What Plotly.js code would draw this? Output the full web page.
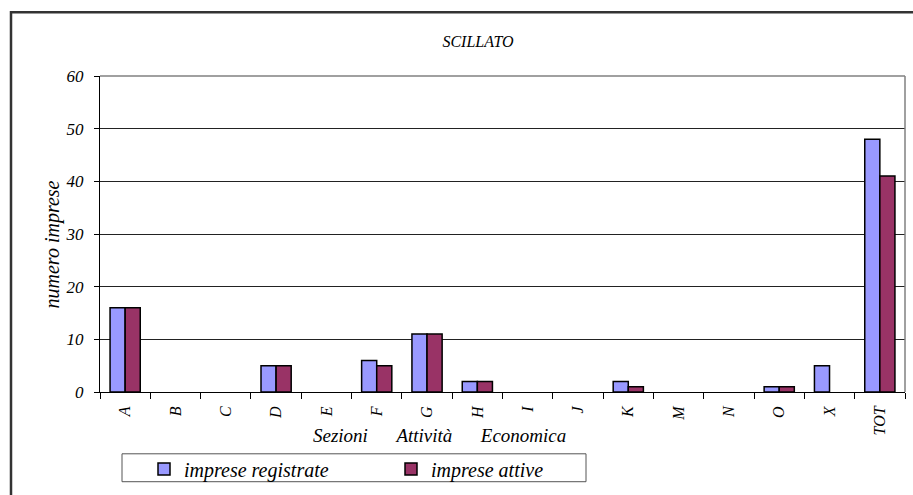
<!DOCTYPE html>
<html>
<head>
<meta charset="utf-8">
<script src="https://cdn.plot.ly/plotly-3.0.1.min.js"></script>
<style>html,body{margin:0;padding:0;background:#fff;}#chart{width:913px;height:495px;}</style>
</head>
<body>
<div id="chart"></div>
<script>
var categories = ["A","B","C","D","E","F","G","H","I","J","K","M","N","O","X","TOT"];
var impreseRegistrate = [16,0,0,5,0,6,11,2,0,0,2,0,0,1,5,48];
var impreseAttive = [16,0,0,5,0,5,11,2,0,0,1,0,0,1,0,41];
var yTicks = [0,10,20,30,40,50,60];

var W = 913, H = 495;
var m = {l:100, r:8, t:76, b:102};
var pw = W - m.l - m.r, ph = H - m.t - m.b;
function px(x){ return (x - m.l)/pw; }
function py(y){ return (H - m.b - y)/ph; }

var fontFam = 'Liberation Serif';
function lineWidths(vals){ return vals.map(function(v){ return v === 0 ? 0 : 1.5; }); }
var trace1 = {type:'bar', name:'imprese registrate', x:categories, y:impreseRegistrate,
  marker:{color:'#9999FF', line:{color:'#000', width:lineWidths(impreseRegistrate)}}};
var trace2 = {type:'bar', name:'imprese attive', x:categories, y:impreseAttive,
  marker:{color:'#993366', line:{color:'#000', width:lineWidths(impreseAttive)}}};

var layout = {
  width:W, height:H, margin:m,
  paper_bgcolor:'#fff', plot_bgcolor:'#fff',
  font:{family:fontFam, size:16, color:'#000', style:'italic'},
  title:{text:'SCILLATO', font:{family:fontFam, size:16, style:'italic', color:'#000'}, xref:'container', x:478/W, xanchor:'center', yref:'container', y:1-41/H, yanchor:'middle'},
  barmode:'group', bargap:0.4, bargroupgap:0,
  showlegend:true,
  legend:{orientation:'h', x:px(144), xanchor:'left', y:py(469), yanchor:'middle',
    bgcolor:'rgba(0,0,0,0)', borderwidth:0, entrywidth:202, entrywidthmode:'pixels',
    font:{family:fontFam, size:20, style:'italic', color:'#000'}},
  xaxis:{type:'category', showgrid:false, zeroline:false, showline:true, linecolor:'#000', linewidth:1,
    ticks:'outside', tickson:'boundaries', ticklen:6, tickcolor:'#000', tickangle:-90, ticklabelstandoff:7,
    tickfont:{family:fontFam, size:16, style:'italic', color:'#000'}},
  yaxis:{range:[0,60], tickvals:yTicks, showgrid:true, gridcolor:'#222', gridwidth:1, zeroline:false,
    showline:true, linecolor:'#000', linewidth:1, ticks:'outside', ticklen:5, tickcolor:'#000', ticklabelstandoff:7,
    tickfont:{family:fontFam, size:17, style:'italic', color:'#000'}},
  annotations:[
    {text:'numero imprese', xref:'paper', yref:'paper', x:px(52), y:py(245), xanchor:'center', yanchor:'middle',
     textangle:-90, showarrow:false, font:{family:fontFam, size:20, style:'italic', color:'#000'}},
    {text:'Sezioni\u00a0\u00a0\u00a0\u00a0\u00a0\u00a0Attività\u00a0\u00a0\u00a0\u00a0\u00a0\u00a0Economica',
    xref:'paper', yref:'paper', x:px(439), y:py(437), xanchor:'center', yanchor:'middle', showarrow:false,
    font:{family:fontFam, size:19, style:'italic', color:'#000'}}],
  shapes:[
    {type:'line', xref:'paper', yref:'paper', x0:0, x1:1, y0:1, y1:1, line:{color:'#808080', width:1.5}},
    {type:'line', xref:'paper', yref:'paper', x0:1, x1:1, y0:0, y1:1, line:{color:'#808080', width:1.5}},
    {type:'rect', xref:'paper', yref:'paper', x0:px(122), x1:px(586), y0:py(455), y1:py(483), line:{color:'#555', width:1}},
    {type:'rect', xref:'paper', yref:'paper', x0:px(11), x1:px(930), y0:py(12), y1:py(520), line:{color:'#333', width:2.5}}
  ]
};
Plotly.newPlot('chart', [trace1, trace2], layout, {displayModeBar:false, staticPlot:true});
</script>
</body>
</html>
